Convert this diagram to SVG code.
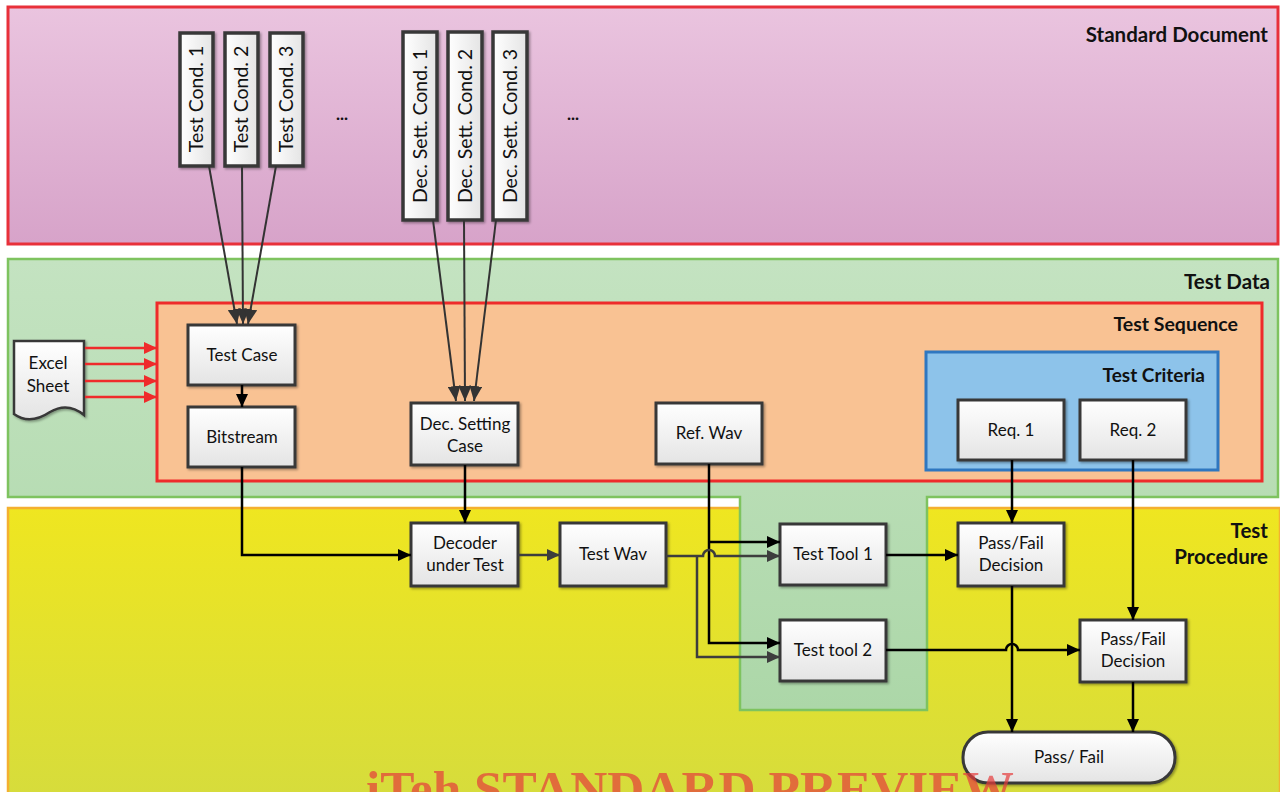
<svg xmlns="http://www.w3.org/2000/svg" width="1280" height="792" viewBox="0 0 1280 792">
<defs>
<linearGradient id="gPink" x1="0" y1="0" x2="0" y2="1"><stop offset="0" stop-color="#eac4df"/><stop offset="1" stop-color="#d7a3c9"/></linearGradient>
<linearGradient id="gGreen" x1="0" y1="0" x2="0" y2="1"><stop offset="0" stop-color="#c4e3c1"/><stop offset="1" stop-color="#acd7a8"/></linearGradient>
<linearGradient id="gYellow" x1="0" y1="0" x2="0" y2="1"><stop offset="0" stop-color="#efe620"/><stop offset="1" stop-color="#d6dc3c"/></linearGradient>
<linearGradient id="gBox" x1="0" y1="0" x2="0" y2="1"><stop offset="0" stop-color="#ffffff"/><stop offset="1" stop-color="#e4e4e4"/></linearGradient>
<linearGradient id="gBoxH" x1="0" y1="0" x2="1" y2="0"><stop offset="0" stop-color="#ffffff"/><stop offset="1" stop-color="#e4e4e4"/></linearGradient>
<filter id="sh" x="-10%" y="-10%" width="130%" height="130%"><feDropShadow dx="1.5" dy="1.5" stdDeviation="1" flood-color="#000" flood-opacity="0.35"/></filter>
<marker id="aB" markerUnits="userSpaceOnUse" markerWidth="14" markerHeight="12" refX="13" refY="6" orient="auto"><path d="M0,0 L13,6 L0,12 z" fill="#000"/></marker>
<marker id="aG" markerUnits="userSpaceOnUse" markerWidth="14" markerHeight="12" refX="13" refY="6" orient="auto"><path d="M0,0 L13,6 L0,12 z" fill="#3d3d3d"/></marker>
<marker id="aD" markerUnits="userSpaceOnUse" markerWidth="16" markerHeight="13" refX="15" refY="6.5" orient="auto"><path d="M0,0 L15,6.5 L0,13 z" fill="#333"/></marker>
<marker id="aR" markerUnits="userSpaceOnUse" markerWidth="14" markerHeight="12" refX="13" refY="6" orient="auto"><path d="M0,0 L13,6 L0,12 z" fill="#ef2b2b"/></marker>
<style>
.box{fill:url(#gBox);stroke:#383838;stroke-width:3;filter:url(#sh)}
.vbox{fill:url(#gBoxH);stroke:#383838;stroke-width:3.5;filter:url(#sh)}
.t{font-family:Lato,"Open Sans","Liberation Sans",sans-serif;font-size:17px;fill:#111;text-anchor:middle}
.rt{font-family:Lato,"Open Sans","Liberation Sans",sans-serif;font-size:19.5px;fill:#111;text-anchor:middle}
.lab{font-family:Lato,"Open Sans","Liberation Sans",sans-serif;font-size:20.5px;font-weight:bold;fill:#111;text-anchor:end}
.c{fill:none;stroke:#000;stroke-width:2.5}
.cg{fill:none;stroke:#3d3d3d;stroke-width:2.5}
.cd{fill:none;stroke:#333;stroke-width:2}
.cr{fill:none;stroke:#ef2b2b;stroke-width:2.5}
</style>
</defs>
<rect width="1280" height="792" fill="#ffffff"/>

<g id="standard-document">
<rect x="8" y="7" width="1270" height="237" fill="url(#gPink)" stroke="#e8303a" stroke-width="3"/>
<text class="lab" x="1268" y="42">Standard Document</text>
</g>

<g id="test-procedure">
<rect x="8" y="508" width="1272" height="290" fill="url(#gYellow)" stroke="#f4b030" stroke-width="2.5"/>
<text class="lab" x="1268" y="538">Test</text>
<text class="lab" x="1268" y="564">Procedure</text>
</g>

<g id="test-data">
<path d="M8,259 H1278 V497 H927 V710 H740 V497 H8 Z" fill="url(#gGreen)" stroke="#7ec35f" stroke-width="2.5"/>
<text class="lab" x="1270" y="289">Test Data</text>
</g>

<g id="test-sequence">
<rect x="157" y="303" width="1105" height="178" fill="#f9c293" stroke="#ee2b2b" stroke-width="3"/>
<text class="lab" x="1238" y="331" style="font-size:19.5px">Test Sequence</text>
</g>

<g id="test-criteria">
<rect x="926" y="352" width="292" height="118" fill="#8dc3ea" stroke="#2f77c0" stroke-width="3"/>
<text class="lab" x="1205" y="382" style="font-size:19px">Test Criteria</text>
</g>

<g id="test-cond-1"><rect class="vbox" x="180" y="33" width="33" height="133"/><text class="rt" transform="translate(203,99) rotate(-90)">Test Cond. 1</text></g>
<g id="test-cond-2"><rect class="vbox" x="225" y="33" width="33" height="133"/><text class="rt" transform="translate(248,99) rotate(-90)">Test Cond. 2</text></g>
<g id="test-cond-3"><rect class="vbox" x="270" y="33" width="33" height="133"/><text class="rt" transform="translate(293,99) rotate(-90)">Test Cond. 3</text></g>
<g id="dots-1"><text class="t" x="342" y="120" font-weight="bold">...</text></g>
<g id="dec-sett-1"><rect class="vbox" x="403" y="32" width="34" height="188"/><text class="rt" transform="translate(427,126) rotate(-90)">Dec. Sett. Cond. 1</text></g>
<g id="dec-sett-2"><rect class="vbox" x="448" y="32" width="34" height="188"/><text class="rt" transform="translate(472,126) rotate(-90)">Dec. Sett. Cond. 2</text></g>
<g id="dec-sett-3"><rect class="vbox" x="493" y="32" width="34" height="188"/><text class="rt" transform="translate(517,126) rotate(-90)">Dec. Sett. Cond. 3</text></g>
<g id="dots-2"><text class="t" x="573" y="120" font-weight="bold">...</text></g>

<g id="excel-sheet">
<path d="M14,341 H84 V415 C73,406 62,405 50,412 C38,420 25,422 14,414 Z" fill="url(#gBox)" stroke="#383838" stroke-width="2.5" filter="url(#sh)"/>
<text class="t" x="48" y="369">Excel</text>
<text class="t" x="48" y="392">Sheet</text>
</g>

<g id="test-case"><rect class="box" x="188" y="325" width="107" height="60"/><text class="t" x="242" y="361">Test Case</text></g>
<g id="bitstream"><rect class="box" x="188" y="407" width="107" height="60"/><text class="t" x="242" y="443">Bitstream</text></g>
<g id="dec-setting-case"><rect class="box" x="411" y="403" width="107" height="62"/><text class="t" x="465" y="430">Dec. Setting</text><text class="t" x="465" y="452">Case</text></g>
<g id="ref-wav"><rect class="box" x="656" y="403" width="106" height="61"/><text class="t" x="709" y="439">Ref. Wav</text></g>
<g id="req-1"><rect class="box" x="958" y="400" width="106" height="60"/><text class="t" x="1011" y="436">Req. 1</text></g>
<g id="req-2"><rect class="box" x="1080" y="400" width="106" height="60"/><text class="t" x="1133" y="436">Req. 2</text></g>

<g id="decoder"><rect class="box" x="411" y="523" width="107" height="63"/><text class="t" x="465" y="549">Decoder</text><text class="t" x="465" y="571">under Test</text></g>
<g id="test-wav"><rect class="box" x="560" y="523" width="106" height="63"/><text class="t" x="613" y="560">Test Wav</text></g>
<g id="test-tool-1"><rect class="box" x="780" y="524" width="106" height="61"/><text class="t" x="833" y="560">Test Tool 1</text></g>
<g id="test-tool-2"><rect class="box" x="780" y="620" width="106" height="61"/><text class="t" x="833" y="656">Test tool 2</text></g>
<g id="pass-fail-decision-1"><rect class="box" x="958" y="523" width="106" height="63"/><text class="t" x="1011" y="549">Pass/Fail</text><text class="t" x="1011" y="571">Decision</text></g>
<g id="pass-fail-decision-2"><rect class="box" x="1080" y="620" width="106" height="62"/><text class="t" x="1133" y="645">Pass/Fail</text><text class="t" x="1133" y="667">Decision</text></g>
<g id="pass-fail"><rect class="box" x="963" y="732" width="212" height="51" rx="25" ry="25"/><text class="t" x="1069" y="763">Pass/ Fail</text></g>

<g id="connectors">
<path class="cd" d="M209,166 L237,324" marker-end="url(#aD)"/>
<path class="cd" d="M242,166 L243,324" marker-end="url(#aD)"/>
<path class="cd" d="M276,166 L248,324" marker-end="url(#aD)"/>
<path class="cd" d="M433,220 L456,401" marker-end="url(#aD)"/>
<path class="cd" d="M464,220 L465,401" marker-end="url(#aD)"/>
<path class="cd" d="M496,220 L474,401" marker-end="url(#aD)"/>
<path class="cr" d="M85,348 H157" marker-end="url(#aR)"/>
<path class="cr" d="M85,364 H157" marker-end="url(#aR)"/>
<path class="cr" d="M85,381 H157" marker-end="url(#aR)"/>
<path class="cr" d="M85,397 H157" marker-end="url(#aR)"/>
<path class="c" d="M242,385 V407" marker-end="url(#aB)"/>
<path class="c" d="M242,467 V555 H411" marker-end="url(#aB)"/>
<path class="c" d="M465,465 V523" marker-end="url(#aB)"/>
<path class="cg" d="M518,555 H560" marker-end="url(#aG)"/>
<path class="c" d="M709,464 V643 H780" marker-end="url(#aB)"/>
<path class="c" d="M709,542 H780" marker-end="url(#aB)"/>
<path class="cg" d="M666,556 H703 A6,6 0 0 1 715,556 H780" marker-end="url(#aG)"/>
<path class="cg" d="M697,556 V657 H780" marker-end="url(#aG)"/>
<path class="c" d="M886,555 H958" marker-end="url(#aB)"/>
<path class="c" d="M886,650 H1006 A6,6 0 0 1 1018,650 H1080" marker-end="url(#aB)"/>
<path class="c" d="M1012,460 V523" marker-end="url(#aB)"/>
<path class="c" d="M1133,460 V620" marker-end="url(#aB)"/>
<path class="c" d="M1012,586 V732" marker-end="url(#aB)"/>
<path class="c" d="M1133,682 V732" marker-end="url(#aB)"/>
</g>

<g id="watermark">
<text x="366" y="806" font-family="'Liberation Serif',serif" font-weight="bold" font-size="50" fill="#e63c3c" fill-opacity="0.7" textLength="648" lengthAdjust="spacingAndGlyphs">iTeh STANDARD PREVIEW</text>
</g>
</svg>
